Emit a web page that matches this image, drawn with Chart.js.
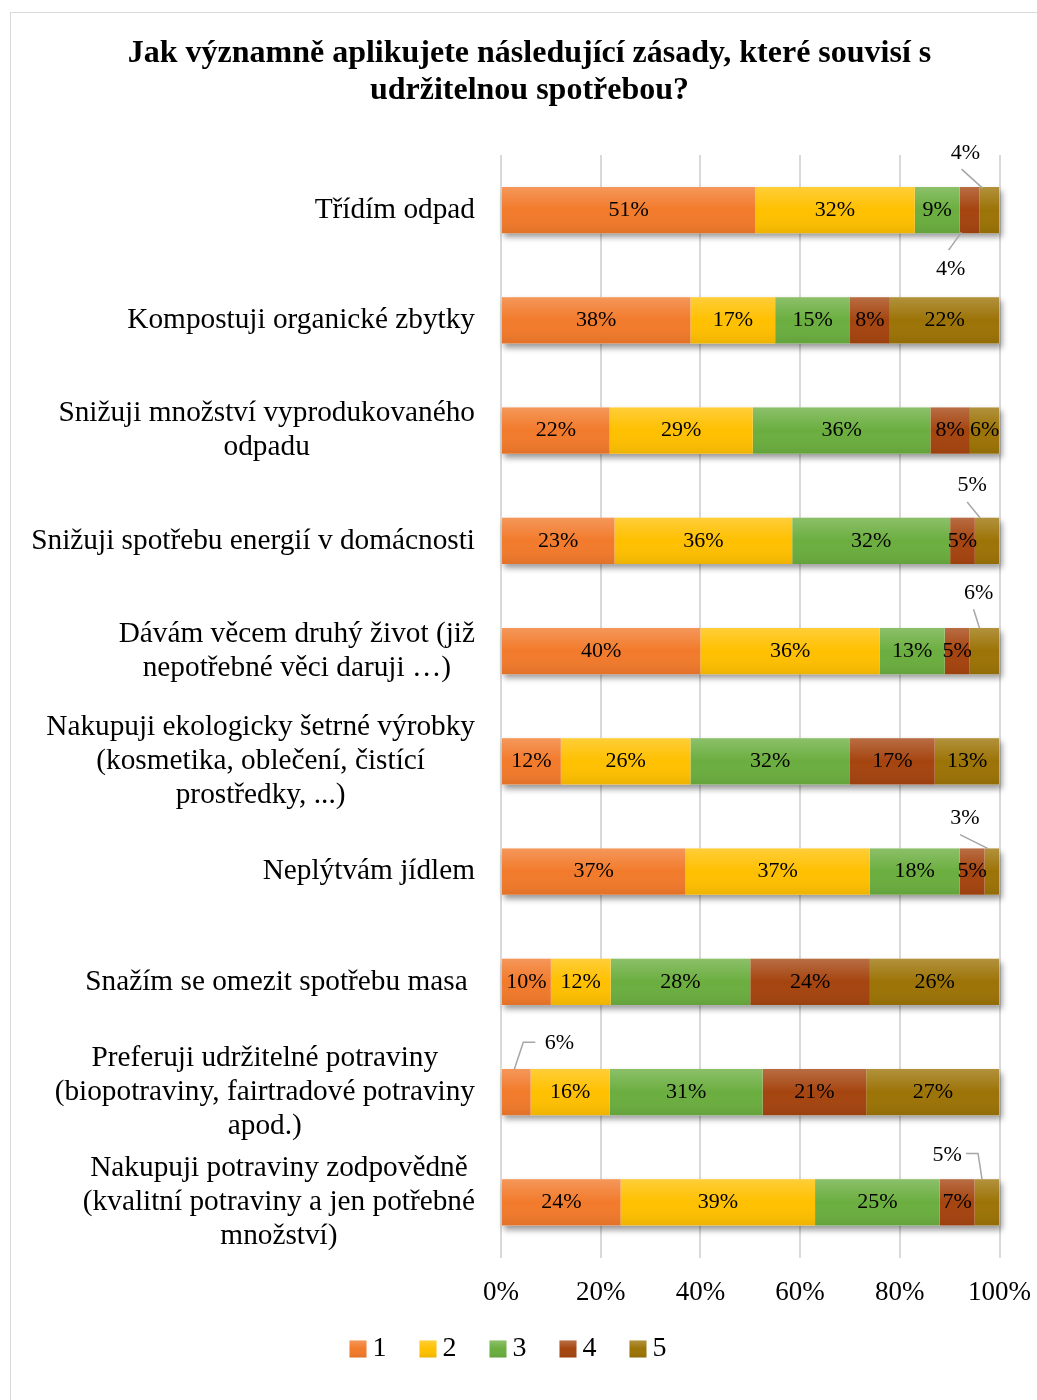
<!DOCTYPE html>
<html>
<head>
<meta charset="utf-8">
<script src="https://cdn.jsdelivr.net/npm/chart.js@4.4.0/dist/chart.umd.min.js"></script>
<style>
  html, body { margin: 0; padding: 0; background: #fff; overflow: hidden; }
  #frame { position: absolute; left: 10px; top: 12px; width: 1100px; height: 1500px; border: 1px solid #d9d9d9; }
  #wrap { position: absolute; left: 0; top: 0; width: 1050px; height: 1400px; }
</style>
</head>
<body>
<div id="frame"></div>
<div id="wrap"><canvas id="chart" width="1050" height="1400"></canvas></div>
<script>
// Otázka (nadpis grafu)
const titleLines = [
  "Jak významně aplikujete následující zásady, které souvisí s",
  "udržitelnou spotřebou?"
];

// Kategorie - každý řádek popisku zvlášť
const categories = [
  ["Třídím odpad"],
  ["Kompostuji organické zbytky"],
  ["Snižuji množství vyprodukovaného", "odpadu"],
  ["Snižuji spotřebu energií v domácnosti"],
  ["Dávám věcem druhý život (již", "nepotřebné věci daruji …)"],
  ["Nakupuji ekologicky šetrné výrobky", "(kosmetika, oblečení, čistící", "prostředky, ...)"],
  ["Neplýtvám jídlem"],
  ["Snažím se omezit spotřebu masa "],
  ["Preferuji udržitelné potraviny", "(biopotraviny, fairtradové potraviny", "apod.)"],
  ["Nakupuji potraviny zodpovědně", "(kvalitní potraviny a jen potřebné", "množství)"]
];

// Podíly odpovědí (%) pro stupně 1-5
const s1 = [51, 38, 22, 23, 40, 12, 37, 10, 6, 24];
const s2 = [32, 17, 29, 36, 36, 26, 37, 12, 16, 39];
const s3 = [9, 15, 36, 32, 13, 32, 18, 28, 31, 25];
const s4 = [4, 8, 8, 5, 5, 17, 5, 24, 21, 7];
const s5 = [4, 22, 6, 5, 6, 13, 3, 26, 27, 5];

const seriesNames = ["1", "2", "3", "4", "5"];
const tickLabels = ["0%", "20%", "40%", "60%", "80%", "100%"];

// Barvy stupňů 1-5
const colors = ["#F27A2B", "#FFC000", "#6BAE3F", "#A5440F", "#9C7306"];

const FONT = "'Liberation Serif', 'Times New Roman', serif";

// Popisky s odkazovou čarou (posun vůči středu segmentu)
const callouts = [
  { row: 0, series: 3, label: [-19, 59], line: [[-8, 22], [-21, 40]] },
  { row: 0, series: 4, label: [-24, -57], line: [[-28, -41], [-7, -22]] },
  { row: 3, series: 4, label: [-15, -56], line: [[-20, -39], [-7, -23]] },
  { row: 4, series: 4, label: [-6, -58], line: [[-11, -42], [-5, -23]] },
  { row: 6, series: 4, label: [-27, -53], line: [[-32, -37], [-4, -23]] },
  { row: 8, series: 0, label: [43, -49], line: [[-2, -23], [7, -50], [19, -50]] },
  { row: 9, series: 4, label: [-40, -47], line: [[-21, -49], [-9, -49], [-5, -23]] }
];

const allSeries = [s1, s2, s3, s4, s5];
// 100% skládaný graf - každý řádek přepočítat na součet 100
const rowSums = categories.map((c, i) => allSeries.reduce((a, s) => a + s[i], 0));

const datasets = allSeries.map((s, k) => ({
  label: seriesNames[k],
  data: s.map((v, i) => v / rowSums[i] * 100),
  backgroundColor: colors[k],
  borderWidth: 0,
  barPercentage: 0.42,
  categoryPercentage: 1
}));

function barRect(chart, row) {
  const first = chart.getDatasetMeta(0).data[row];
  const last = chart.getDatasetMeta(allSeries.length - 1).data[row];
  const h = first.height;
  return { x0: first.base, x1: last.x, y0: first.y - h / 2, y1: first.y + h / 2 };
}

function gloss(ctx, x, y, w, h) {
  const g = ctx.createLinearGradient(0, y, 0, y + h);
  g.addColorStop(0, "rgba(255,255,255,0.22)");
  g.addColorStop(0.5, "rgba(255,255,255,0)");
  g.addColorStop(1, "rgba(0,0,0,0.07)");
  ctx.fillStyle = g;
  ctx.fillRect(x, y, w, h);
}

const excelLook = {
  id: "excelLook",
  beforeDatasetsDraw(chart) {
    const ctx = chart.ctx;
    ctx.save();
    ctx.shadowColor = "rgba(0,0,0,0.4)";
    ctx.shadowBlur = 6;
    ctx.shadowOffsetX = 2;
    ctx.shadowOffsetY = 4;
    ctx.fillStyle = "#ffffff";
    categories.forEach((c, i) => {
      const r = barRect(chart, i);
      ctx.fillRect(r.x0, r.y0, r.x1 - r.x0, r.y1 - r.y0);
    });
    ctx.restore();
  },
  afterDatasetsDraw(chart) {
    const ctx = chart.ctx;
    const area = chart.chartArea;
    ctx.save();

    // lesk přes celé pruhy
    categories.forEach((c, i) => {
      const r = barRect(chart, i);
      gloss(ctx, r.x0, r.y0, r.x1 - r.x0, r.y1 - r.y0);
    });

    // hodnoty v segmentech
    ctx.fillStyle = "#000";
    ctx.font = "22px " + FONT;
    ctx.textAlign = "center";
    ctx.textBaseline = "middle";
    allSeries.forEach((s, k) => {
      const meta = chart.getDatasetMeta(k);
      s.forEach((v, i) => {
        const el = meta.data[i];
        const cx = (el.base + el.x) / 2;
        const cy = el.y;
        const co = callouts.find(c => c.row === i && c.series === k);
        if (co) {
          ctx.strokeStyle = "#a6a6a6";
          ctx.lineWidth = 1.5;
          ctx.beginPath();
          co.line.forEach((p, j) => {
            if (j === 0) ctx.moveTo(cx + p[0], cy + p[1]);
            else ctx.lineTo(cx + p[0], cy + p[1]);
          });
          ctx.stroke();
          ctx.fillText(v + "%", cx + co.label[0], cy + co.label[1]);
        } else {
          ctx.fillText(v + "%", cx, cy);
        }
      });
    });

    // popisky kategorií (řádky zarovnané na střed bloku)
    const yScale = chart.scales.y;
    const right = area.left - 26;
    const lh = 34;
    ctx.font = "29.3px " + FONT;
    categories.forEach((lines, i) => {
      const cy = yScale.getPixelForTick(i);
      const maxW = Math.max(...lines.map(t => ctx.measureText(t).width));
      const cx = right - maxW / 2;
      lines.forEach((t, j) => {
        ctx.fillText(t, cx, cy + (j - (lines.length - 1) / 2) * lh);
      });
    });

    // nadpis
    ctx.font = "bold 32px " + FONT;
    titleLines.forEach((t, j) => ctx.fillText(t, 529.5, 54 + j * 37));

    // legenda
    const box = 17, gap = 6, step = 70;
    ctx.font = "28px " + FONT;
    const lastW = ctx.measureText(seriesNames[seriesNames.length - 1]).width;
    const total = (seriesNames.length - 1) * step + box + gap + lastW;
    let lx = 508 - total / 2;
    const ly = 1349;
    seriesNames.forEach((name, k) => {
      ctx.fillStyle = colors[k];
      ctx.fillRect(lx, ly - box / 2, box, box);
      gloss(ctx, lx, ly - box / 2, box, box);
      ctx.fillStyle = "#000";
      ctx.textAlign = "left";
      ctx.fillText(name, lx + box + gap, ly);
      lx += step;
    });
    ctx.restore();
  }
};

new Chart(document.getElementById("chart"), {
  type: "bar",
  data: { labels: categories, datasets: datasets },
  options: {
    indexAxis: "y",
    responsive: false,
    animation: false,
    layout: { padding: { left: 501, right: 0, top: 155, bottom: 72 } },
    plugins: {
      legend: { display: false },
      title: { display: false },
      tooltip: { enabled: false }
    },
    scales: {
      x: {
        stacked: true,
        min: 0,
        max: 100,
        ticks: {
          stepSize: 20,
          padding: 19,
          color: "#000",
          font: { family: FONT, size: 27 },
          callback: (v, i) => tickLabels[i]
        },
        grid: { color: "#d9d9d9", lineWidth: 2, drawTicks: false },
        border: { display: false }
      },
      y: {
        stacked: true,
        display: false
      }
    }
  },
  plugins: [excelLook]
});
</script>
</body>
</html>
